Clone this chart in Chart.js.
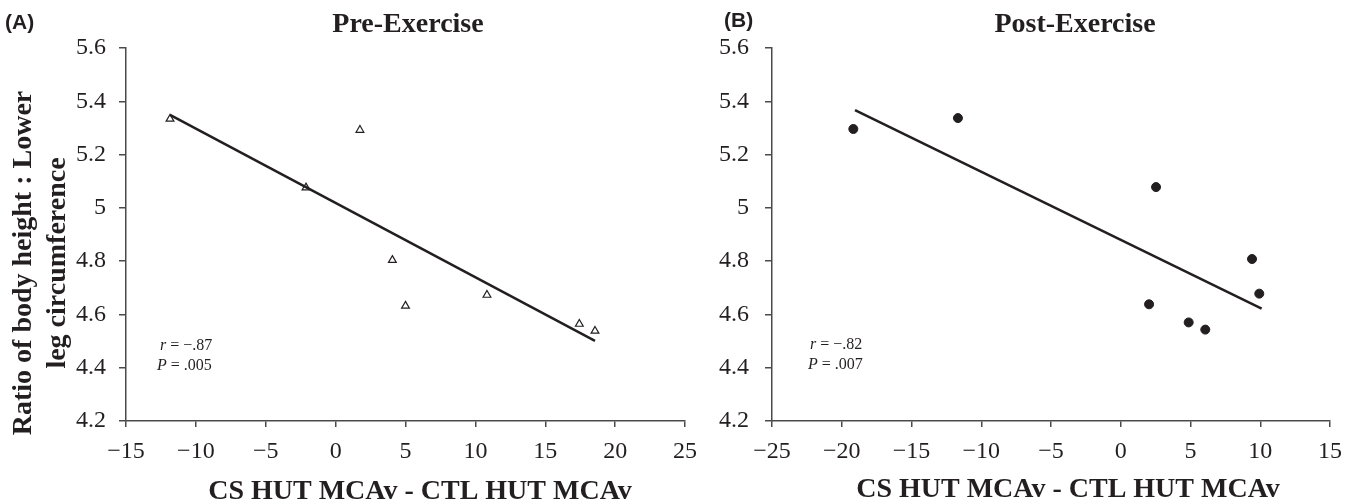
<!DOCTYPE html>
<html>
<head>
<meta charset="utf-8">
<script src="https://cdn.jsdelivr.net/npm/chart.js@4.4.1/dist/chart.umd.min.js"></script>
<style>
  html, body { margin: 0; padding: 0; background: #fff; }
  #wrap { position: relative; width: 1354px; height: 504px; overflow: hidden; }
  canvas { position: absolute; top: 0; }
  #chartA { left: 0; }
  #chartB { left: 690px; }
</style>
</head>
<body>
<div id="wrap">
  <canvas id="chartA" width="720" height="504"></canvas>
  <canvas id="chartB" width="664" height="504"></canvas>
</div>
<script>
// (A) pre-exercise
const preX = [-11.85, -2.12, 1.74, 4.06, 5.0, 10.83, 17.44, 18.56];
const preY = [5.334, 5.076, 5.292, 4.804, 4.632, 4.673, 4.564, 4.538];
const preFitX = [-11.85, 18.56];
const preFitY = [5.349, 4.501];

// (B) post-exercise
const postX = [-19.17, -11.67, 2.03, 2.53, 4.87, 6.06, 9.41, 9.93];
const postY = [5.296, 5.337, 4.638, 5.078, 4.570, 4.543, 4.808, 4.678];
const postFitX = [-19.05, 10.1];
const postFitY = [5.367, 4.622];

const yTicks = [4.2, 4.4, 4.6, 4.8, 5, 5.2, 5.4, 5.6];
const yTickLabels = ['4.2', '4.4', '4.6', '4.8', '5', '5.2', '5.4', '5.6'];
const preXTicks = [-15, -10, -5, 0, 5, 10, 15, 20, 25];
const postXTicks = [-25, -20, -15, -10, -5, 0, 5, 10, 15];

const xTitle = 'CS HUT MCAv - CTL HUT MCAv';
const yTitle = ['Ratio of body height : Lower', 'leg circumference'];
const preStats = ['\u2212.87', '.005'];
const postStats = ['\u2212.82', '.007'];

const INK = '#231f20';
const AXIS = '#4a4a4a';
const SERIF = '"Liberation Serif", "Times New Roman", serif';
const SANS = '"Liberation Sans", Arial, sans-serif';

function toXY(xs, ys) {
  return xs.map((x, i) => ({ x: x, y: ys[i] }));
}

function minusLabel(v) {
  return v < 0 ? '\u2212' + Math.abs(v) : String(v);
}

// draws titles, panel letters and r / P notes
const panelText = {
  id: 'panelText',
  afterDraw(chart, args, opts) {
    const ctx = chart.ctx;
    ctx.save();
    ctx.fillStyle = INK;
    (opts.items || []).forEach(t => {
      ctx.save();
      ctx.font = t.font;
      ctx.textAlign = t.align || 'center';
      ctx.textBaseline = t.baseline || 'alphabetic';
      ctx.translate(t.x, t.y);
      if (t.rotate) ctx.rotate(t.rotate);
      ctx.fillText(t.text, 0, 0);
      ctx.restore();
    });
    (opts.stats || []).forEach(s => {
      ctx.textAlign = 'left';
      ctx.textBaseline = 'alphabetic';
      ctx.font = 'italic 16px ' + SERIF;
      ctx.fillText(s.sym, s.x, s.y);
      const w = ctx.measureText(s.sym).width;
      ctx.font = '16px ' + SERIF;
      ctx.fillText(s.rest, s.x + w, s.y);
    });
    ctx.restore();
  }
};

function makeScales(xTicks, yWidth, yPad) {
  return {
    x: {
      type: 'linear',
      min: xTicks[0],
      max: xTicks[xTicks.length - 1],
      afterBuildTicks: s => { s.ticks = xTicks.map(v => ({ value: v })); },
      afterFit: s => { s.height = 83; },
      grid: { drawOnChartArea: false, drawTicks: true, tickLength: 6, color: AXIS, lineWidth: 1.5 },
      border: { display: true, color: AXIS, width: 1.5 },
      ticks: {
        color: INK,
        font: { family: SERIF, size: 24 },
        padding: 10,
        maxRotation: 0,
        autoSkip: false,
        callback: v => minusLabel(v)
      }
    },
    y: {
      type: 'linear',
      min: yTicks[0],
      max: yTicks[yTicks.length - 1],
      afterBuildTicks: s => { s.ticks = yTicks.map(v => ({ value: v })); },
      afterFit: s => { s.width = yWidth; },
      grid: { drawOnChartArea: false, drawTicks: true, tickLength: 7, color: AXIS, lineWidth: 1.5 },
      border: { display: true, color: AXIS, width: 1.5 },
      ticks: {
        color: INK,
        font: { family: SERIF, size: 24 },
        padding: yPad,
        autoSkip: false,
        callback: (v, i) => yTickLabels[i]
      }
    }
  };
}

function makeChart(id, pts, fit, marker, xTicks, yWidth, yPad, padRight, texts) {
  const pointSet = {
    data: pts,
    showLine: false,
    pointStyle: marker,
    pointRadius: 4.5,
    pointHoverRadius: 4.5,
    pointBackgroundColor: marker === 'triangle' ? '#fff' : INK,
    pointBorderColor: INK,
    pointBorderWidth: marker === 'triangle' ? 1.2 : 1
  };
  const fitSet = {
    data: fit,
    showLine: true,
    borderColor: INK,
    borderWidth: 2.5,
    pointRadius: 0,
    fill: false
  };
  return new Chart(document.getElementById(id), {
    type: 'scatter',
    data: { datasets: [fitSet, pointSet] },
    options: {
      responsive: false,
      animation: false,
      layout: { padding: { left: 0, right: padRight, top: 48, bottom: 0 } },
      scales: makeScales(xTicks, yWidth, yPad),
      plugins: {
        legend: { display: false },
        tooltip: { enabled: false },
        panelText: texts
      }
    },
    plugins: [panelText]
  });
}

makeChart('chartA', toXY(preX, preY), toXY(preFitX, preFitY), 'triangle', preXTicks, 126, 13, 35, {
  items: [
    { text: '(A)', x: 5, y: 23, font: 'bold 21px ' + SANS, align: 'left', baseline: 'middle' },
    { text: 'Pre-Exercise', x: 408, y: 32, font: 'bold 28px ' + SERIF },
    { text: xTitle, x: 420, y: 499, font: 'bold 28px ' + SERIF },
    { text: yTitle[0], x: 31, y: 263, font: 'bold 28px ' + SERIF, rotate: -Math.PI / 2 },
    { text: yTitle[1], x: 65, y: 263, font: 'bold 28px ' + SERIF, rotate: -Math.PI / 2 }
  ],
  stats: [
    { sym: 'r', rest: ' = ' + preStats[0], x: 160, y: 350 },
    { sym: 'P', rest: ' = ' + preStats[1], x: 157, y: 370 }
  ]
});

makeChart('chartB', toXY(postX, postY), toXY(postFitX, postFitY), 'circle', postXTicks, 82, 16, 24, {
  items: [
    { text: '(B)', x: 34, y: 21, font: 'bold 21px ' + SANS, align: 'left', baseline: 'middle' },
    { text: 'Post-Exercise', x: 385, y: 32, font: 'bold 28px ' + SERIF },
    { text: xTitle, x: 378, y: 497, font: 'bold 28px ' + SERIF }
  ],
  stats: [
    { sym: 'r', rest: ' = ' + postStats[0], x: 120, y: 349 },
    { sym: 'P', rest: ' = ' + postStats[1], x: 118, y: 369 }
  ]
});
</script>
</body>
</html>
